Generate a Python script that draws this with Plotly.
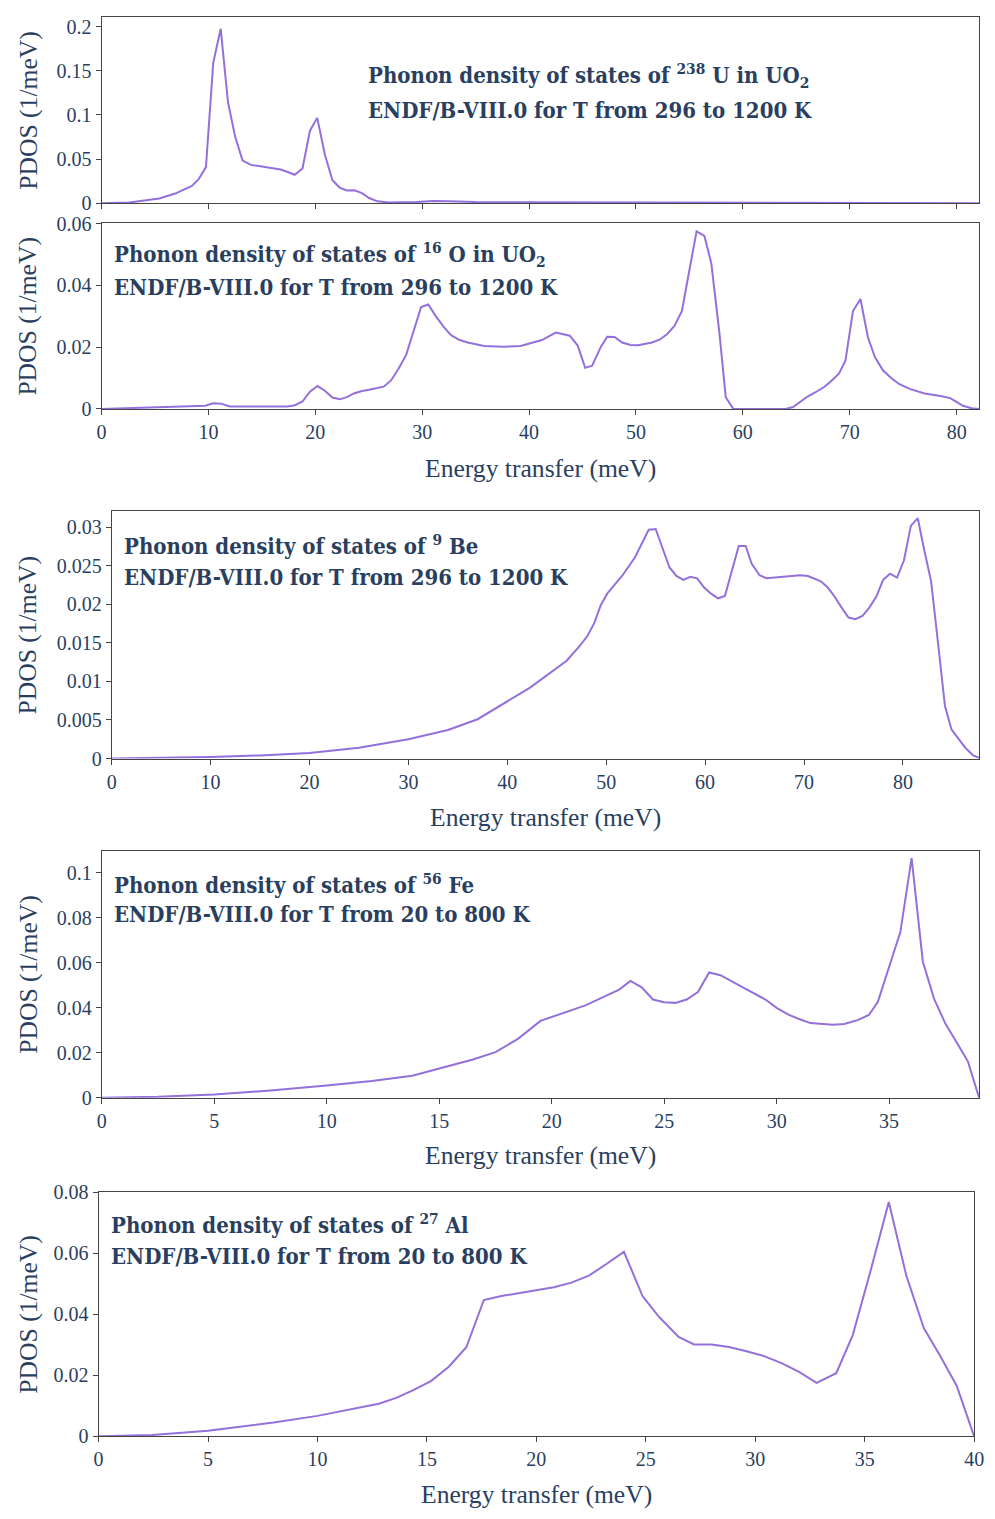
import plotly.graph_objects as go

# ---------------- data ----------------
u_energy = [0, 2.6, 5.4, 6.9, 8.45, 9.07, 9.77, 10.45, 11.15, 11.83, 12.5, 13.2, 13.98, 16.75, 17.36,
            18.07, 18.8, 19.5, 20.18, 20.9, 21.6, 22.28, 22.95, 23.66, 24.37, 25.04, 25.8, 26.9, 29.5,
            31.0, 32.5, 35, 40, 50, 60, 70, 82.1]
u_pdos = [0, 0.001, 0.0055, 0.011, 0.0197, 0.027, 0.041, 0.159, 0.1975, 0.1146, 0.0755, 0.0483, 0.0435,
          0.0383, 0.0357, 0.0323, 0.0394, 0.0822, 0.0967, 0.055, 0.026, 0.0178, 0.0145, 0.0148, 0.0115,
          0.006, 0.0022, 0.001, 0.0015, 0.0026, 0.0024, 0.0015, 0.0012, 0.0009, 0.0006, 0.0003, 0.0001]

o_energy = [0, 5.4, 9.7, 10.45, 11.2, 12.0, 17.4, 18.1, 18.8, 19.5, 20.2, 20.9, 21.6, 22.3, 22.95, 23.66,
            24.37, 25.04, 26.4, 27.1, 27.8, 28.5, 29.2, 29.9, 30.57, 31.3, 32.05, 32.7, 33.5, 34.26, 35.8,
            37.6, 39.2, 40.1, 41.2, 42.5, 43.8, 44.55, 45.25, 45.9, 46.7, 47.3, 48.0, 48.7, 49.5, 50.2,
            51.5, 52.2, 52.9, 53.6, 54.3, 55.0, 55.67, 56.4, 57.05, 57.8, 58.4, 59.1, 64.0, 64.7, 66.05,
            66.8, 67.6, 68.2, 69.0, 69.6, 70.3, 71.0, 71.7, 72.35, 73.1, 73.9, 74.65, 75.6, 77.0, 78.5,
            79.4, 80.6, 81.4, 82.1]
o_pdos = [0, 0.0005, 0.001, 0.0018, 0.0017, 0.0008, 0.0008, 0.0012, 0.0024, 0.0056, 0.0074, 0.0059,
          0.0037, 0.0031, 0.0038, 0.0051, 0.0058, 0.0062, 0.0072, 0.0093, 0.0131, 0.0175, 0.0253, 0.033,
          0.0338, 0.0299, 0.0264, 0.0239, 0.0223, 0.0215, 0.0204, 0.0201, 0.0204, 0.0212, 0.0223, 0.0247,
          0.0237, 0.0205, 0.0133, 0.014, 0.02, 0.0234, 0.0233, 0.0215, 0.0207, 0.0206, 0.0215, 0.0224,
          0.0242, 0.0269, 0.0317, 0.045, 0.0575, 0.056, 0.0471, 0.0248, 0.0038, 0, 0, 0.0006, 0.004,
          0.0054, 0.0071, 0.0088, 0.0115, 0.0157, 0.0317, 0.0356, 0.0232, 0.0168, 0.0125, 0.0099, 0.008,
          0.0065, 0.005, 0.0042, 0.0035, 0.001, 0.0002, 0]

be_energy = [0, 10, 15, 20, 25, 30, 34, 37, 42.3, 46, 47.3, 48.1, 48.8, 49.45, 50.1, 51.6, 52.9, 54.3,
             55.0, 56.4, 57.1, 57.8, 58.5, 59.2, 59.9, 60.6, 61.3, 62.0, 63.4, 64.1, 64.7, 65.5, 66.2,
             69.6, 70.4, 71.7, 72.4, 73.05, 73.9, 74.5, 75.2, 75.9, 76.6, 77.3, 78.0, 78.7, 79.4, 80.1,
             80.8, 81.5, 82.1, 82.85, 83.6, 84.25, 84.9, 85.7, 86.3, 87.1, 87.7]
be_pdos = [0, 0.0002, 0.0004, 0.0007, 0.0014, 0.0025, 0.0037, 0.0051, 0.0092, 0.0127, 0.0146, 0.0159,
           0.0176, 0.0199, 0.0214, 0.0237, 0.0261, 0.0297, 0.0298, 0.0248, 0.0237, 0.0232, 0.0236,
           0.0234, 0.0222, 0.0214, 0.0208, 0.0211, 0.0276, 0.0276, 0.0253, 0.0238, 0.0234, 0.0238,
           0.0237, 0.023, 0.0222, 0.0211, 0.0194, 0.0183, 0.0181, 0.0185, 0.0196, 0.021, 0.0232, 0.024,
           0.0235, 0.0257, 0.0302, 0.0312, 0.0274, 0.023, 0.0144, 0.0068, 0.0038, 0.0024, 0.0014,
           0.0004, 0.0001]

fe_energy = [0, 2.5, 5, 7.5, 10, 12, 13.8, 15, 16.5, 17.5, 18.5, 19.5, 21.5, 23.0, 23.5, 24, 24.5, 25,
             25.5, 26, 26.5, 27, 27.5, 28.5, 29.5, 30, 30.5, 31, 31.5, 32.5, 33, 33.6, 34.1, 34.5, 35.1,
             35.5, 36.0, 36.5, 37, 37.5, 38, 38.5, 39.0]
fe_pdos = [0, 0.0004, 0.0015, 0.0032, 0.0054, 0.0075, 0.0098, 0.013, 0.017, 0.0203, 0.0262, 0.0342,
           0.0411, 0.0481, 0.052, 0.0491, 0.0437, 0.0425, 0.0422, 0.0437, 0.047, 0.0557, 0.0545, 0.0491,
           0.0437, 0.04, 0.0371, 0.035, 0.0332, 0.0325, 0.0328, 0.0345, 0.0368, 0.0427, 0.0613, 0.0737,
           0.1066, 0.0605, 0.044, 0.033, 0.0247, 0.0162, 0]

al_energy = [0, 2.45, 5, 8, 10, 11.5, 12.8, 13.6, 14.4, 15.2, 16.0, 16.8, 17.6, 18.4, 20.0, 20.8, 21.6,
             22.4, 23.2, 24.0, 24.85, 25.6, 26.5, 27.2, 28.0, 28.8, 29.6, 30.4, 31.2, 32.0, 32.8, 33.7,
             34.45, 35.25, 36.1, 36.9, 37.7, 38.45, 39.2, 40.0]
al_pdos = [0, 0.0004, 0.0018, 0.0045, 0.0067, 0.0089, 0.0107, 0.0126, 0.0152, 0.0182, 0.0228, 0.0292,
           0.0447, 0.046, 0.0479, 0.0489, 0.0504, 0.0527, 0.0565, 0.0605, 0.046, 0.0392, 0.0326, 0.0301,
           0.0301, 0.0293, 0.0279, 0.0263, 0.024, 0.0211, 0.0175, 0.0207, 0.0331, 0.0538, 0.0768,
           0.0527, 0.0355, 0.0263, 0.0166, 0]

titles_line1 = [
    "Phonon density of states of <sup>238</sup> U in UO<sub>2</sub>",
    "Phonon density of states of <sup>16</sup> O in UO<sub>2</sub>",
    "Phonon density of states of <sup>9</sup> Be",
    "Phonon density of states of <sup>56</sup> Fe",
    "Phonon density of states of <sup>27</sup> Al",
]
titles_line2 = [
    "ENDF/B-VIII.0 for T from 296 to 1200 K",
    "ENDF/B-VIII.0 for T from 296 to 1200 K",
    "ENDF/B-VIII.0 for T from 296 to 1200 K",
    "ENDF/B-VIII.0 for T from 20 to 800 K",
    "ENDF/B-VIII.0 for T from 20 to 800 K",
]
x_ranges = [[0, 82.1], [0, 82.1], [0, 87.7], [0, 39], [0, 40]]
y_ranges = [[0, 0.211], [0, 0.0602], [0, 0.0321], [0, 0.10996], [0, 0.0802]]
x_dticks = [10, 10, 10, 5, 5]
y_dticks = [0.05, 0.02, 0.005, 0.02, 0.02]
y_title = "PDOS (1/meV)"
x_title = "Energy transfer (meV)"

# ---------------- layout geometry (reference pixels -> paper fractions) ----------------
W, H = 995, 1519
# left, right, top, bottom of each plot area
boxes = [(98, 989, 7, 196), (98, 989, 216, 404.5), (108.3, 989, 508.3, 759),
         (98.3, 989, 852.3, 1103), (95, 984, 1198.3, 1446.3)]
# annotation positions: (left x, line1 center y, line2 center y)
ann_pos = [(367, 67, 101), (109, 248, 281), (119, 542, 575), (109, 886, 917), (106, 1231, 1263)]
xtitle_y = [None, 465, 819, 1162, 1505]
show_xlabels = [False, True, True, True, True]

series = [(u_energy, u_pdos), (o_energy, o_pdos), (be_energy, be_pdos), (fe_energy, fe_pdos), (al_energy, al_pdos)]

TEXT = "#2a3f5f"
LINE = "#9370DB"
SERIF = "Liberation Serif, Times New Roman, serif"
BOLD = "DejaVu Serif Condensed, DejaVu Serif, serif"

fig = go.Figure()
annotations = []
for i, ((xs, ys), (l, r, t, b)) in enumerate(zip(series, boxes)):
    n = "" if i == 0 else str(i + 1)
    fig.add_trace(go.Scatter(x=xs, y=ys, mode="lines", line=dict(color=LINE, width=2),
                             xaxis="x" + n, yaxis="y" + n, showlegend=False, hoverinfo="skip"))
    common = dict(showline=True, linecolor="#444", linewidth=1, mirror=True, ticks="outside",
                  ticklen=5, tickcolor="#444", showgrid=False, zeroline=False,
                  tickfont=dict(family=SERIF, size=20, color=TEXT))
    fig.update_layout(**{
        "xaxis" + n: dict(domain=[l / W, r / W], anchor="y" + n, range=x_ranges[i], dtick=x_dticks[i],
                          tick0=0, showticklabels=show_xlabels[i], **common),
        "yaxis" + n: dict(domain=[1 - b / H, 1 - t / H], anchor="x" + n, range=y_ranges[i],
                          dtick=y_dticks[i], tick0=0, **common),
    })
    ax, y1, y2 = ann_pos[i]
    for txt, yy in ((titles_line1[i], y1), (titles_line2[i], y2)):
        annotations.append(dict(text="<b>" + txt + "</b>", xref="paper", yref="paper", x=ax / W,
                                y=1 - yy / H, xanchor="left", yanchor="middle", showarrow=False,
                                font=dict(family=BOLD, size=22, color=TEXT)))
    annotations.append(dict(text=y_title, xref="paper", yref="paper", x=23 / W, y=1 - (t + b) / 2 / H,
                            xanchor="center", yanchor="middle", textangle=-90, showarrow=False,
                            font=dict(family=SERIF, size=25.6, color=TEXT)))
    if xtitle_y[i] is not None:
        annotations.append(dict(text=x_title, xref="paper", yref="paper", x=(l + r) / 2 / W,
                                y=1 - xtitle_y[i] / H, xanchor="center", yanchor="middle",
                                showarrow=False, font=dict(family=SERIF, size=25.6, color=TEXT)))

fig.update_layout(autosize=True, margin=dict(l=0, r=0, t=0, b=0, pad=0), paper_bgcolor="white",
                  plot_bgcolor="white", annotations=annotations)
fig.write_html("out.html", default_width="100vw", default_height="100vh",
               config={"displayModeBar": False, "responsive": True},
               post_script="document.documentElement.style.overflow='hidden';"
                           "document.body.style.margin='0';document.body.style.overflow='hidden';"
                           "window.dispatchEvent(new Event('resize'));")
